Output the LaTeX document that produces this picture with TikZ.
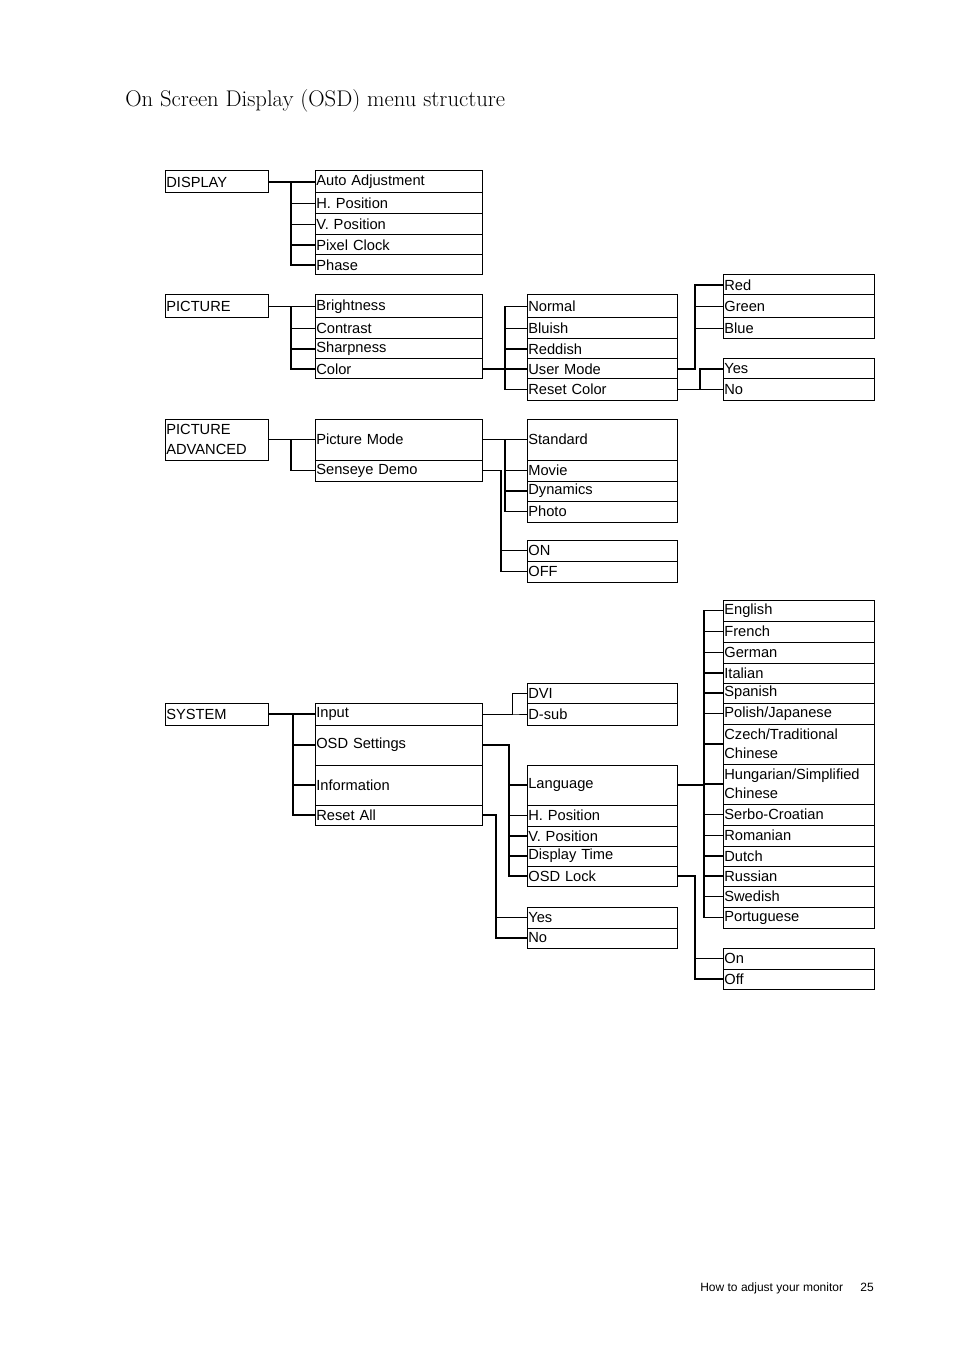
\documentclass[tikz,border=0pt]{standalone}
\usepackage{fontspec}
\setsansfont{Liberation Sans}
\begin{document}
\begin{tikzpicture}[x=0.75pt,y=-0.75pt,
  box/.style={draw,line width=0.75pt,inner xsep=1pt,inner ysep=0pt,align=left,font=\sffamily\fontsize{11}{14.5}\selectfont},
  con/.style={line width=1.1pt},
  thin/.style={line width=0.6pt}]
\useasboundingbox (0,0) rectangle (954,1351);
\newcommand\bx[6]{\pgfmathsetmacro\bw{(#4-#2)*0.75-2}\pgfmathsetmacro\bh{(#5-#3)*0.75}%
  \node[box,text width=\bw pt,minimum height=\bh pt] (#1) at ({(#2+#4)/2},{(#3+#5)/2}) {#6};}
\newcommand\cn[4][con]{\draw[#1] (#2.east) -- (#2.east -| #3,0) |- (#4.west);}
\node[anchor=base west,font=\fontsize{17}{20}\selectfont,inner sep=0] (title) at (125,107) {On Screen Display (OSD) menu structure};
\node[anchor=base east,font=\sffamily\fontsize{9}{11}\selectfont,inner sep=0] (foot) at (874,1291) {How to adjust your monitor\hspace{13pt}25};
% DISPLAY
\bx{d}{165}{171}{268}{193}{DISPLAY}
\bx{d1}{315}{171}{482}{193}{Auto Adjustment}
\bx{d2}{315}{193}{482}{214}{H. Position}
\bx{d3}{315}{214}{482}{235}{V. Position}
\bx{d4}{315}{235}{482}{255}{Pixel Clock}
\bx{d5}{315}{255}{482}{275}{Phase}
\foreach \c in {d1,d2,d3,d4,d5} {\cn{d}{291}{\c}}
% PICTURE
\bx{p}{165}{295}{268}{318}{PICTURE}
\bx{p1}{315}{295}{482}{318}{Brightness}
\bx{p2}{315}{318}{482}{339}{Contrast}
\bx{p3}{315}{339}{482}{359}{Sharpness}
\bx{p4}{315}{359}{482}{379}{Color}
\foreach \c in {p1,p2,p3,p4} {\cn{p}{291}{\c}}
\bx{c1}{527}{295}{677}{318}{Normal}
\bx{c2}{527}{318}{677}{339}{Bluish}
\bx{c3}{527}{339}{677}{359}{Reddish}
\bx{c4}{527}{359}{677}{379}{User Mode}
\bx{c5}{527}{379}{677}{400}{Reset Color}
\foreach \c in {c1,c2,c3,c4,c5} {\cn{p4}{505}{\c}}
\bx{u1}{723}{275}{874}{295}{Red}
\bx{u2}{723}{295}{874}{318}{Green}
\bx{u3}{723}{318}{874}{339}{Blue}
\foreach \c in {u1,u2,u3} {\cn{c4}{695}{\c}}
\bx{r1}{723}{359}{874}{379}{Yes}
\bx{r2}{723}{379}{874}{400}{No}
\foreach \c in {r1,r2} {\cn{c5}{700}{\c}}
% PICTURE ADVANCED
\bx{a}{165}{419}{268}{460}{PICTURE\\ADVANCED}
\bx{a1}{315}{419}{482}{460}{Picture Mode}
\bx{a2}{315}{460}{482}{481}{Senseye Demo}
\foreach \c in {a1,a2} {\cn{a}{291}{\c}}
\bx{m1}{527}{419}{677}{460}{Standard}
\bx{m2}{527}{460}{677}{481}{Movie}
\bx{m3}{527}{481}{677}{501}{Dynamics}
\bx{m4}{527}{501}{677}{522}{Photo}
\foreach \c in {m1,m2,m3,m4} {\cn{a1}{505}{\c}}
\bx{o1}{527}{540}{677}{561}{ON}
\bx{o2}{527}{561}{677}{582}{OFF}
\foreach \c in {o1,o2} {\cn{a2}{501}{\c}}
% SYSTEM
\bx{s}{165}{703}{268}{725}{SYSTEM}
\bx{s1}{315}{703}{482}{725}{Input}
\bx{s2}{315}{725}{482}{765}{OSD Settings}
\bx{s3}{315}{765}{482}{805}{Information}
\bx{s4}{315}{805}{482}{825}{Reset All}
\foreach \c in {s1,s2,s3,s4} {\cn{s}{293}{\c}}
\bx{i1}{527}{683}{677}{703}{DVI}
\bx{i2}{527}{703}{677}{725}{D-sub}
\foreach \c in {i1,i2} {\cn[thin]{s1}{512}{\c}}
\bx{g1}{527}{765}{677}{805}{Language}
\bx{g2}{527}{805}{677}{826}{H. Position}
\bx{g3}{527}{826}{677}{846}{V. Position}
\bx{g4}{527}{846}{677}{866}{Display Time}
\bx{g5}{527}{866}{677}{886}{OSD Lock}
\foreach \c in {g1,g2,g3,g4,g5} {\cn{s2}{509}{\c}}
\bx{y1}{527}{907}{677}{928}{Yes}
\bx{y2}{527}{928}{677}{948}{No}
\foreach \c in {y1,y2} {\cn{s4}{496}{\c}}
\bx{l1}{723}{600}{874}{621}{English}
\bx{l2}{723}{621}{874}{642}{French}
\bx{l3}{723}{642}{874}{663}{German}
\bx{l4}{723}{663}{874}{683}{Italian}
\bx{l5}{723}{683}{874}{703}{Spanish}
\bx{l6}{723}{703}{874}{724}{Polish/Japanese}
\bx{l7}{723}{724}{874}{764}{Czech/Traditional\\Chinese}
\bx{l8}{723}{764}{874}{804}{Hungarian/Simplified\\Chinese}
\bx{l9}{723}{804}{874}{825}{Serbo-Croatian}
\bx{l10}{723}{825}{874}{846}{Romanian}
\bx{l11}{723}{846}{874}{866}{Dutch}
\bx{l12}{723}{866}{874}{886}{Russian}
\bx{l13}{723}{886}{874}{907}{Swedish}
\bx{l14}{723}{907}{874}{928}{Portuguese}
\foreach \c in {l1,l2,l3,l4,l5,l6,l7,l8,l9,l10,l11,l12,l13,l14} {\cn{g1}{704}{\c}}
\bx{k1}{723}{948}{874}{969}{On}
\bx{k2}{723}{969}{874}{989}{Off}
\foreach \c in {k1,k2} {\cn{g5}{695}{\c}}
\end{tikzpicture}
\end{document}
